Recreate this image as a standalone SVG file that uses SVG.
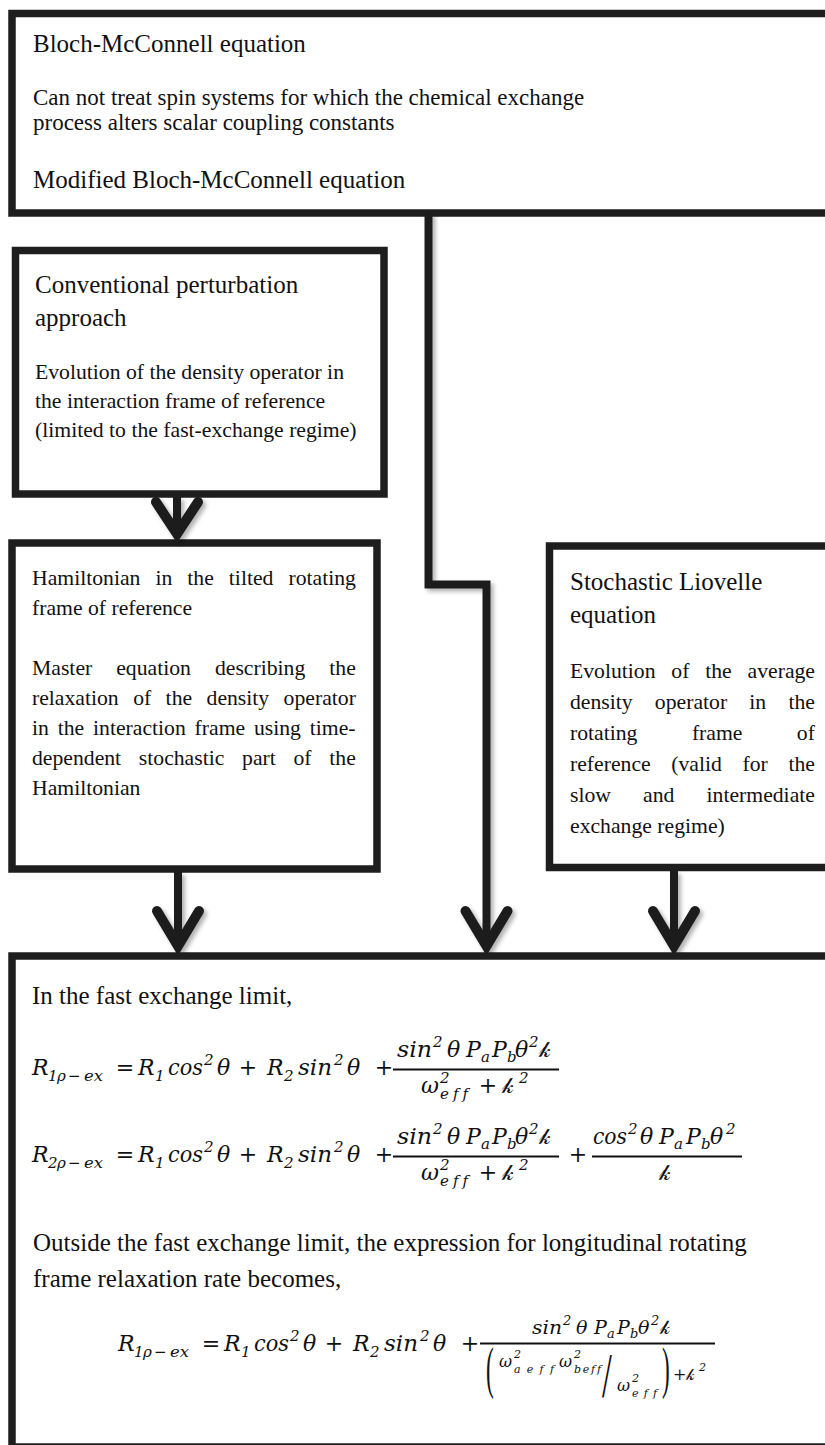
<svg xmlns="http://www.w3.org/2000/svg" width="825" height="1445" viewBox="0 0 825 1445">
<style>
.box{fill:#fff;stroke:#1e1e1e;stroke-width:7.5}
.t{font-family:"Liberation Serif","Times New Roman",serif;fill:#111}
.ti{font-size:25px}
.d{font-size:23px}
.m{font-size:21.7px}
.mi{font-family:"DejaVu Serif",serif;font-style:italic;fill:#111;font-size:22px;font-variant-ligatures:none;font-feature-settings:"liga" 0}
.mn{font-family:"DejaVu Serif",serif;fill:#111;font-size:22px}
.s{font-size:15px}
.n{font-size:19px}
.ns{font-size:13px}
.dn{font-size:16px}
.ds{font-size:11px}
.k{font-family:"DejaVu Serif","DejaVu Sans",serif;font-style:normal}
.shaft{fill:none;stroke:#1e1e1e;stroke-width:8}
.head{fill:none;stroke:#1e1e1e;stroke-width:10;stroke-linecap:round;stroke-linejoin:miter}
.bar{stroke:#111;stroke-width:1.8}
</style>
<defs>
<filter id="sh" x="-20%" y="-5%" width="140%" height="110%">
<feDropShadow dx="3" dy="3" stdDeviation="2" flood-color="#000" flood-opacity="0.3"/>
</filter>
</defs>
<rect width="825" height="1445" fill="#fff"/>

<g id="node-top">
<rect class="box" x="12" y="13.5" width="840" height="199.5"/>
<text class="t ti" x="33" y="52">Bloch-McConnell equation</text>
<text class="t d" x="33" y="105">Can not treat spin systems for which the chemical exchange</text>
<text class="t d" x="33" y="130">process alters scalar coupling constants</text>
<text class="t ti" x="33" y="188">Modified Bloch-McConnell equation</text>
</g>

<g id="node-conv">
<rect class="box" x="15.5" y="250.5" width="368.5" height="243.5"/>
<text class="t ti" x="35" y="293">Conventional perturbation</text>
<text class="t ti" x="35" y="326">approach</text>
<text class="t m" x="35" y="379">Evolution of the density operator in</text>
<text class="t m" x="35" y="408">the interaction frame of reference</text>
<text class="t m" x="35" y="437">(limited to the fast-exchange regime)</text>
</g>

<g id="node-ham">
<rect class="box" x="12" y="543" width="365" height="326"/>
<text class="t m" x="32" y="585" word-spacing="9.6">Hamiltonian in the tilted rotating</text>
<text class="t m" x="32" y="615">frame of reference</text>
<text class="t m" x="32" y="675" word-spacing="18.6">Master equation describing the</text>
<text class="t m" x="32" y="705" word-spacing="9">relaxation of the density operator</text>
<text class="t m" x="32" y="735" word-spacing="3.4">in the interaction frame using time-</text>
<text class="t m" x="32" y="765" word-spacing="12.3">dependent stochastic part of the</text>
<text class="t m" x="32" y="795">Hamiltonian</text>
</g>

<g id="node-stoch">
<rect class="box" x="549.5" y="546" width="300" height="321.5"/>
<text class="t ti" x="570" y="590">Stochastic Liovelle</text>
<text class="t ti" x="570" y="623">equation</text>
<text class="t m" x="570" y="678" word-spacing="10.4">Evolution of the average</text>
<text class="t m" x="570" y="709" word-spacing="16.8">density operator in the</text>
<text class="t m" x="570" y="740" word-spacing="49">rotating frame of</text>
<text class="t m" x="570" y="771" word-spacing="15.2">reference (valid for the</text>
<text class="t m" x="570" y="802" word-spacing="26.7">slow and intermediate</text>
<text class="t m" x="570" y="833">exchange regime)</text>
</g>

<g id="connectors" filter="url(#sh)">
<path class="shaft" d="M428.5 213 V584.5 H486.5 V945"/>
<path class="head" d="M465.5 911 L486.5 946 L507.5 911"/>
<path class="shaft" d="M177 497 V533"/>
<path class="head" d="M156 502 L177 534 L198 502"/>
<path class="shaft" d="M178 872 V945"/>
<path class="head" d="M157 911 L178 946 L199 911"/>
<path class="shaft" d="M674 871 V945"/>
<path class="head" d="M653 911 L674 946 L695 911"/>
</g>

<g id="node-bottom">
<rect class="box" x="12" y="956" width="840" height="491"/>
<text class="t ti" x="32" y="1004">In the fast exchange limit,</text>

<g id="eq1">
<text class="mi" x="32" y="1075">R</text>
<text class="mi s" x="48" y="1081">1</text><text class="mi s" x="57" y="1081">ρ</text><text class="mn s" x="68" y="1081">−</text><text class="mi s" x="84" y="1081" textLength="19" lengthAdjust="spacingAndGlyphs">ex</text>
<text class="mn" x="125" y="1075" text-anchor="middle">=</text>
<text class="mi" x="138" y="1075">R</text><text class="mi s" x="155" y="1081">1</text>
<text class="mi" x="168" y="1075" textLength="35" lengthAdjust="spacingAndGlyphs">cos</text><text class="mi s" x="204" y="1065">2</text>
<text class="mi" x="217" y="1075">θ</text>
<text class="mn" x="248" y="1075" text-anchor="middle">+</text>
<text class="mi" x="267" y="1075">R</text><text class="mi s" x="284" y="1081">2</text>
<text class="mi" x="298" y="1075" textLength="34" lengthAdjust="spacingAndGlyphs">sin</text><text class="mi s" x="334" y="1065">2</text>
<text class="mi" x="347" y="1075">θ</text>
<text class="mn" x="384" y="1075" text-anchor="middle">+</text>
<line class="bar" x1="393" y1="1069.5" x2="559" y2="1069.5"/>
<text class="mi" x="397" y="1057" textLength="35" lengthAdjust="spacingAndGlyphs">sin</text><text class="mi s" x="433" y="1047">2</text>
<text class="mi" x="447" y="1057">θ</text>
<text class="mi" x="466" y="1057">P</text><text class="mi s" x="481" y="1062">a</text>
<text class="mi" x="492" y="1057">P</text><text class="mi s" x="507" y="1062">b</text>
<text class="mi" x="515" y="1057">θ</text><text class="mi s" x="529" y="1047">2</text>
<text class="mi k" x="539" y="1057">𝓀</text>
<text class="mi" x="421" y="1093">ω</text><text class="mi s" x="440" y="1083">2</text><text class="mi s" x="440" y="1099" textLength="28" lengthAdjust="spacing">eff</text>
<text class="mn" x="488" y="1093" text-anchor="middle">+</text>
<text class="mi k" x="502" y="1093">𝓀</text><text class="mi s" x="519" y="1083">2</text>
</g>

<g id="eq2">
<text class="mi" x="32" y="1162">R</text>
<text class="mi s" x="48" y="1168">2</text><text class="mi s" x="57" y="1168">ρ</text><text class="mn s" x="68" y="1168">−</text><text class="mi s" x="84" y="1168" textLength="19" lengthAdjust="spacingAndGlyphs">ex</text>
<text class="mn" x="125" y="1162" text-anchor="middle">=</text>
<text class="mi" x="138" y="1162">R</text><text class="mi s" x="155" y="1168">1</text>
<text class="mi" x="168" y="1162" textLength="35" lengthAdjust="spacingAndGlyphs">cos</text><text class="mi s" x="204" y="1152">2</text>
<text class="mi" x="217" y="1162">θ</text>
<text class="mn" x="248" y="1162" text-anchor="middle">+</text>
<text class="mi" x="267" y="1162">R</text><text class="mi s" x="284" y="1168">2</text>
<text class="mi" x="298" y="1162" textLength="34" lengthAdjust="spacingAndGlyphs">sin</text><text class="mi s" x="334" y="1152">2</text>
<text class="mi" x="347" y="1162">θ</text>
<text class="mn" x="384" y="1162" text-anchor="middle">+</text>
<line class="bar" x1="393" y1="1156.5" x2="559" y2="1156.5"/>
<text class="mi" x="397" y="1144" textLength="35" lengthAdjust="spacingAndGlyphs">sin</text><text class="mi s" x="433" y="1134">2</text>
<text class="mi" x="447" y="1144">θ</text>
<text class="mi" x="466" y="1144">P</text><text class="mi s" x="481" y="1149">a</text>
<text class="mi" x="492" y="1144">P</text><text class="mi s" x="507" y="1149">b</text>
<text class="mi" x="515" y="1144">θ</text><text class="mi s" x="529" y="1134">2</text>
<text class="mi k" x="539" y="1144">𝓀</text>
<text class="mi" x="421" y="1180">ω</text><text class="mi s" x="440" y="1170">2</text><text class="mi s" x="440" y="1186" textLength="28" lengthAdjust="spacing">eff</text>
<text class="mn" x="488" y="1180" text-anchor="middle">+</text>
<text class="mi k" x="502" y="1180">𝓀</text><text class="mi s" x="519" y="1170">2</text>
<text class="mn" x="578" y="1162" text-anchor="middle">+</text>
<line class="bar" x1="592" y1="1156.5" x2="742" y2="1156.5"/>
<text class="mi" x="593" y="1144" textLength="34" lengthAdjust="spacingAndGlyphs">cos</text><text class="mi s" x="628" y="1134">2</text>
<text class="mi" x="640" y="1144">θ</text>
<text class="mi" x="659" y="1144">P</text><text class="mi s" x="674" y="1149">a</text>
<text class="mi" x="686" y="1144">P</text><text class="mi s" x="701" y="1149">b</text>
<text class="mi" x="710" y="1144">θ</text><text class="mi s" x="726" y="1134">2</text>
<text class="mi k" x="659" y="1180">𝓀</text>
</g>

<text class="t ti" x="33" y="1251">Outside the fast exchange limit, the expression for longitudinal rotating</text>
<text class="t ti" x="33" y="1287">frame relaxation rate becomes,</text>

<g id="eq3">
<text class="mi" x="118" y="1351">R</text>
<text class="mi s" x="134" y="1357">1</text><text class="mi s" x="143" y="1357">ρ</text><text class="mn s" x="154" y="1357">−</text><text class="mi s" x="170" y="1357" textLength="19" lengthAdjust="spacingAndGlyphs">ex</text>
<text class="mn" x="211" y="1351" text-anchor="middle">=</text>
<text class="mi" x="224" y="1351">R</text><text class="mi s" x="241" y="1357">1</text>
<text class="mi" x="254" y="1351" textLength="35" lengthAdjust="spacingAndGlyphs">cos</text><text class="mi s" x="290" y="1341">2</text>
<text class="mi" x="303" y="1351">θ</text>
<text class="mn" x="334" y="1351" text-anchor="middle">+</text>
<text class="mi" x="353" y="1351">R</text><text class="mi s" x="370" y="1357">2</text>
<text class="mi" x="384" y="1351" textLength="34" lengthAdjust="spacingAndGlyphs">sin</text><text class="mi s" x="420" y="1341">2</text>
<text class="mi" x="433" y="1351">θ</text>
<text class="mn" x="470" y="1351" text-anchor="middle">+</text>
<line class="bar" x1="480" y1="1343.5" x2="715" y2="1343.5"/>
<text class="mi n" x="532" y="1334" textLength="30" lengthAdjust="spacingAndGlyphs">sin</text><text class="mi ns" x="563" y="1325">2</text>
<text class="mi n" x="576" y="1334">θ</text>
<text class="mi n" x="594" y="1334">P</text><text class="mi ns" x="607" y="1338">a</text>
<text class="mi n" x="617" y="1334">P</text><text class="mi ns" x="630" y="1338">b</text>
<text class="mi n" x="638" y="1334">θ</text><text class="mi ns" x="651" y="1325">2</text>
<text class="mi n k" x="660" y="1334">𝓀</text>
<text class="t" transform="translate(486 1387) scale(0.4 1)" style="font-size:58px">(</text>
<text class="mi dn" x="499" y="1367">ω</text><text class="mi ds" x="514" y="1358">2</text><text class="mi ds" x="514" y="1373" textLength="40" lengthAdjust="spacing">aeff</text>
<text class="mi dn" x="559" y="1367">ω</text><text class="mi ds" x="574" y="1358">2</text><text class="mi ds" x="574" y="1373" textLength="27" lengthAdjust="spacing">beff</text>
<text class="t" transform="translate(602 1397) scale(0.55 1)" style="font-size:64px">/</text>
<text class="mi dn" x="617" y="1391">ω</text><text class="mi ds" x="632" y="1382">2</text><text class="mi ds" x="632" y="1397" textLength="25" lengthAdjust="spacing">eff</text>
<text class="t" transform="translate(662 1387) scale(0.4 1)" style="font-size:58px">)</text>
<text class="mn dn" x="673" y="1380">+</text>
<text class="mi dn k" x="686" y="1380">𝓀</text><text class="mi ds" x="699" y="1371">2</text>
</g>
</g>
</svg>
